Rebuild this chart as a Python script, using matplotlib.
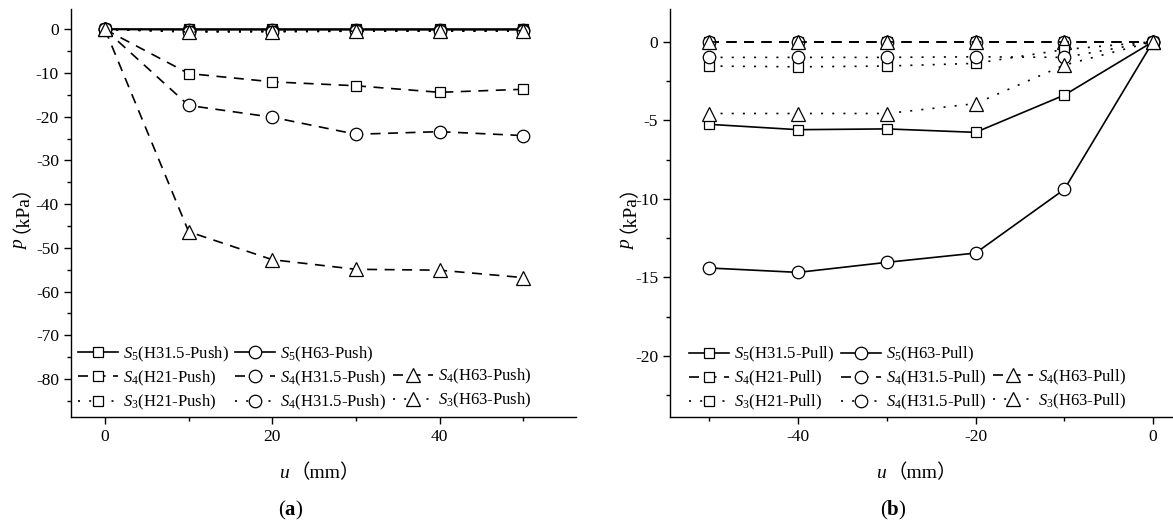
import matplotlib.pyplot as plt
from matplotlib.lines import Line2D

plt.rcParams['font.family'] = ['Liberation Serif', 'Noto Sans CJK TC']
plt.rcParams['mathtext.fontset'] = 'custom'
plt.rcParams['mathtext.rm'] = 'Liberation Serif'
plt.rcParams['mathtext.it'] = 'Liberation Serif:italic'
plt.rcParams['mathtext.bf'] = 'Liberation Serif:bold'
plt.rcParams['axes.unicode_minus'] = False

# (a) push
u_push = [0, 10, 20, 30, 40, 50]
s5_h315_push = [0, 0, 0, 0, 0, 0]
s5_h63_push = [0, -0.1, -0.1, -0.1, -0.1, -0.1]
s4_h21_push = [0, -10.1, -12.0, -12.9, -14.4, -13.7]
s4_h315_push = [0, -17.4, -20.1, -24.0, -23.4, -24.3]
s4_h63_push = [0, -46.3, -52.7, -54.9, -55.1, -56.8]
s3_h21_push = [0, -0.4, -0.4, -0.3, -0.3, -0.3]
s3_h315_push = [0, -0.5, -0.5, -0.4, -0.4, -0.4]
s3_h63_push = [0, -0.6, -0.5, -0.4, -0.3, -0.3]

# (b) pull
u_pull = [-50, -40, -30, -20, -10, 0]
s5_h315_pull = [-5.26, -5.6, -5.55, -5.77, -3.4, 0]
s5_h63_pull = [-14.4, -14.68, -14.04, -13.45, -9.4, 0]
s4_h21_pull = [0, 0, 0, 0, 0, 0]
s4_h315_pull = [0, 0, 0, 0, 0, 0]
s4_h63_pull = [0, 0, 0, 0, 0, 0]
s3_h21_pull = [-1.55, -1.6, -1.55, -1.38, -0.5, 0]
s3_h315_pull = [-1.0, -1.0, -1.0, -0.96, -1.0, 0]
s3_h63_pull = [-4.57, -4.57, -4.57, -3.94, -1.49, 0]

push_labels = [r'$S_5$(H31.5-Push)', r'$S_5$(H63-Push)',
               r'$S_4$(H21-Push)', r'$S_4$(H31.5-Push)', r'$S_4$(H63-Push)',
               r'$S_3$(H21-Push)', r'$S_4$(H31.5-Push)', r'$S_3$(H63-Push)']
pull_labels = [r'$S_5$(H31.5-Pull)', r'$S_5$(H63-Pull)',
               r'$S_4$(H21-Pull)', r'$S_4$(H31.5-Pull)', r'$S_4$(H63-Pull)',
               r'$S_3$(H21-Pull)', r'$S_4$(H31.5-Pull)', r'$S_3$(H63-Pull)']

SOLID = '-'
DASH = (0, (6, 4.5))
DOT = (0, (1.2, 5.5))
styles = [(SOLID, 's'), (SOLID, 'o'),
          (DASH, 's'), (DASH, 'o'), (DASH, '^'),
          (DOT, 's'), (DOT, 'o'), (DOT, '^')]
msize = {'s': 7.2, 'o': 9, '^': 9.5}


def panel(ax, u, series, labels, leg_x):
    lines = []
    for y, (ls, mk), lab in zip(series, styles, labels):
        ln, = ax.plot(u, y, linestyle=ls, color='black', lw=1.2,
                      marker=mk, ms=msize[mk], mfc='white', mec='black',
                      mew=0.9, label=lab)
        lines.append(ln)
    blank = Line2D([], [], linestyle='none', marker='none', label=' ')
    # column-major order so that rows read like the original legend
    order = [lines[0], lines[2], lines[5],
             lines[1], lines[3], lines[6],
             blank, lines[4], lines[7]]
    ax.legend(handles=order, labels=[h.get_label() for h in order],
              ncol=3, loc='lower left', bbox_to_anchor=(leg_x, 0.012),
              frameon=False, fontsize=12, handlelength=2.4,
              handletextpad=0.3, columnspacing=0.4, labelspacing=0.3,
              borderpad=0, borderaxespad=0)
    for s in ['top', 'right']:
        ax.spines[s].set_visible(False)
    for s in ['left', 'bottom']:
        ax.spines[s].set_linewidth(1.0)
    ax.tick_params(which='major', direction='out', length=5, width=1,
                   labelsize=12.5)
    ax.tick_params(which='minor', direction='out', length=3, width=1)


def label_pair(x, y, var, unit, rot):
    # italic variable + unit in full-width brackets
    if rot:
        fig.text(x, y, var, style='italic', fontsize=14, rotation=90,
                 ha='center', va='top')
        # the CJK fallback shifts rotated glyphs sideways, pull it back
        fig.text(x - 9 / W, y + 7 / H, unit, fontsize=14, rotation=90,
                 ha='center', va='bottom')
    else:
        fig.text(x, y, var, style='italic', fontsize=14,
                 ha='right', va='baseline')
        fig.text(x + 2 / W, y, unit, fontsize=14, ha='left', va='baseline')


W, H = 1173, 528
fig = plt.figure(figsize=(W / 100, H / 100), dpi=100)

ax1 = fig.add_axes([70.7 / W, 1 - 417 / H, 505.3 / W, 407.7 / H])
panel(ax1, u_push,
      [s5_h315_push, s5_h63_push, s4_h21_push, s4_h315_push, s4_h63_push,
       s3_h21_push, s3_h315_push, s3_h63_push], push_labels, 0.014)
ax1.set_xlim(-4.1, 56.3)
ax1.set_ylim(-88.7, 4.6)
ax1.set_xticks([0, 20, 40])
ax1.set_xticks([10, 30, 50], minor=True)
ax1.set_yticks(range(-80, 1, 10))
ax1.set_yticks(range(-85, 1, 10), minor=True)

ax2 = fig.add_axes([670 / W, 1 - 417.3 / H, 503 / W, 408 / H])
panel(ax2, u_pull,
      [s5_h315_pull, s5_h63_pull, s4_h21_pull, s4_h315_pull, s4_h63_pull,
       s3_h21_pull, s3_h315_pull, s3_h63_pull], pull_labels, 0.037)
ax2.set_xlim(-54.44, 2.25)
ax2.set_ylim(-23.9, 2.06)
ax2.set_xticks([-40, -20, 0])
ax2.set_xticks([-50, -30, -10], minor=True)
ax2.set_yticks([-20, -15, -10, -5, 0])
ax2.set_yticks([-22.5, -17.5, -12.5, -7.5, -2.5], minor=True)

label_pair(20 / W, 1 - 240 / H, 'p', '（kPa）', True)
label_pair(289 / W, 1 - 478 / H, 'u', '（mm）', False)
label_pair(627 / W, 1 - 240 / H, 'p', '（kPa）', True)
label_pair(886 / W, 1 - 478 / H, 'u', '（mm）', False)

fig.text(291 / W, 1 - 510 / H, r'($\mathbf{a}$)', fontsize=15,
         ha='center', va='center')
fig.text(893 / W, 1 - 510 / H, r'($\mathbf{b}$)', fontsize=15,
         ha='center', va='center')

fig.savefig('out.png', dpi=100)
